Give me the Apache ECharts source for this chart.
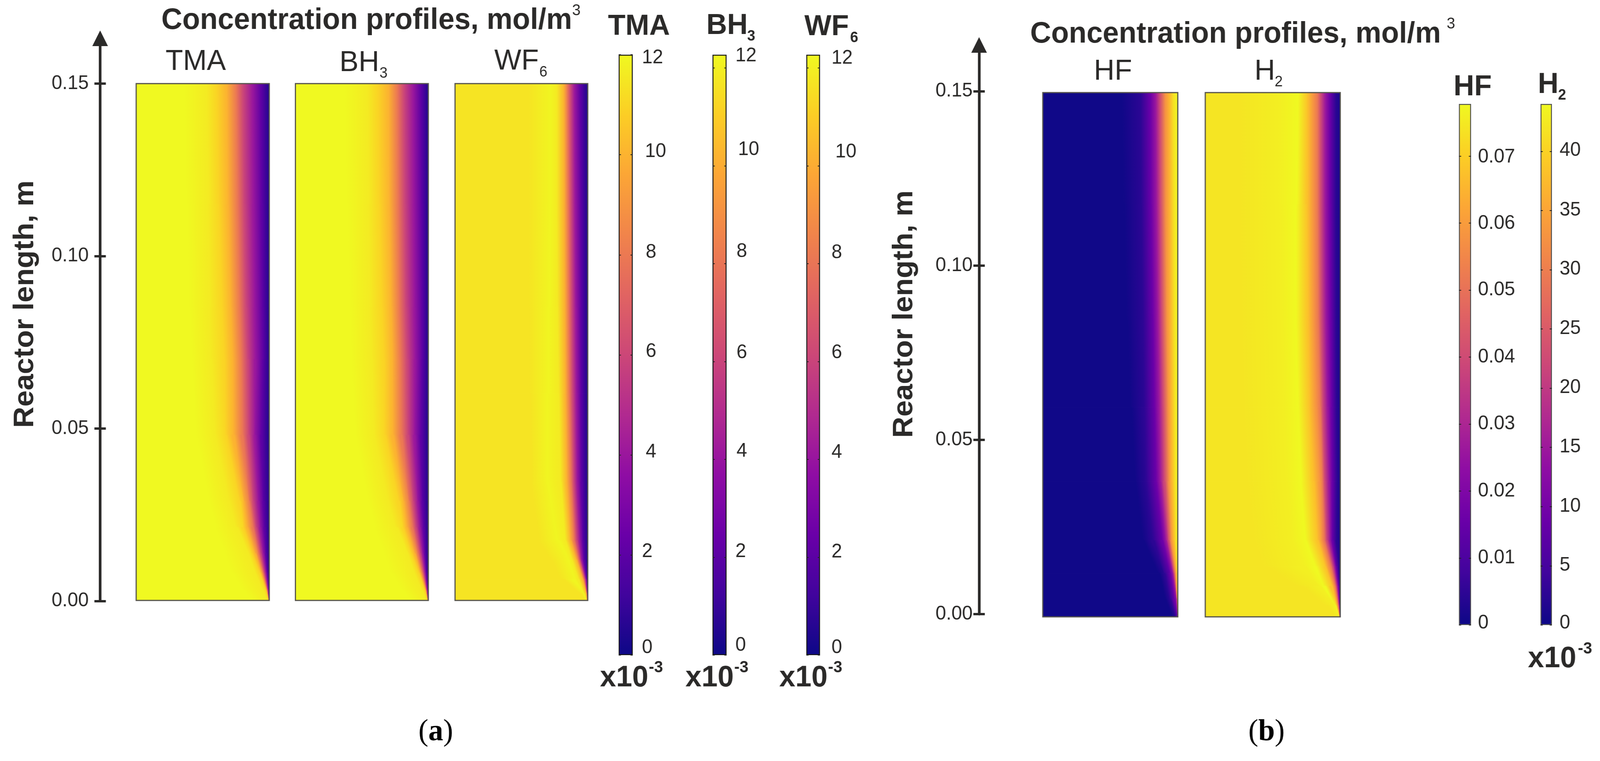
<!DOCTYPE html>
<html>
<head>
<meta charset="utf-8">
<style>
html,body{margin:0;padding:0;background:#fff;overflow:hidden;width:100%;height:100%}
/* The browser window tops out at 4096 px wide, so the 4195 px layout is fitted to the window width. */
#c{width:4195px;height:1948px;transform-origin:0 0;}
</style>
<script src="https://cdn.jsdelivr.net/npm/echarts@6/dist/echarts.min.js"></script>
</head>
<body>
<div id="c"></div>
<script>
// ---------- chart values ----------
// Reactor-length axis ticks (m)
const lengthTicks = [0, 0.05, 0.10, 0.15];

// Colour-bar ticks
const tmaTicks = [0, 2, 4, 6, 8, 10, 12];
const bh3Ticks = [0, 2, 4, 6, 8, 10, 12];
const wf6Ticks = [0, 2, 4, 6, 8, 10, 12];
const hfTicks = [0, 0.01, 0.02, 0.03, 0.04, 0.05, 0.06, 0.07];
const h2Ticks = [0, 5, 10, 15, 20, 25, 30, 35, 40];

// Top of each colour scale
const tmaScaleMax = 12, bh3ScaleMax = 12.27, wf6ScaleMax = 12.27, hfScaleMax = 0.0778, h2ScaleMax = 44;

// Each field: concentration levels (mol/m3, x10^-3 for all but HF), heights along the reactor (m),
// and for each height the lateral place (0 = left edge, 1 = right edge) where each level is reached.
const tmaLevels = [12, 11.6, 11, 10, 8, 6, 4, 2, 0.5];
const tmaHeights = [0.15, 0.115, 0.085, 0.07, 0.048, 0.0288, 0.0212, 0.0136, 0.008, 0.003, 0];
const tmaFront = [
  [.36,.53,.60,.68,.75,.80,.875,.94,1],
  [.38,.54,.62,.69,.76,.81,.88,.945,1],
  [.40,.55,.645,.71,.775,.825,.89,.95,1],
  [.42,.56,.66,.725,.79,.835,.895,.955,1],
  [.45,.60,.67,.73,.795,.845,.89,.94,1],
  [.55,.69,.78,.81,.85,.877,.917,.954,1],
  [.60,.755,.805,.83,.877,.90,.93,.963,1],
  [.66,.85,.868,.897,.917,.935,.954,.974,1],
  [.72,.89,.93,.94,.954,.963,.975,.985,1],
  [.80,.955,.973,.98,.985,.988,.992,.996,1],
  [.88,.985,.995,.997,.998,.998,.999,.999,1]
];
const bh3Levels = [12, 11.6, 11, 10, 8, 6, 4, 2, 0.5];
const bh3Heights = [0.15, 0.115, 0.085, 0.07, 0.048, 0.0288, 0.0212, 0.0136, 0.008, 0.003, 0];
const bh3Front = [
  [.37,.54,.615,.70,.765,.815,.885,.945,1],
  [.39,.55,.63,.705,.77,.82,.89,.95,1],
  [.41,.56,.65,.72,.78,.83,.895,.955,1],
  [.42,.57,.665,.73,.79,.84,.90,.955,1],
  [.45,.60,.67,.73,.795,.845,.895,.945,1],
  [.55,.69,.78,.815,.855,.885,.92,.955,1],
  [.60,.76,.81,.835,.88,.905,.935,.965,1],
  [.66,.85,.87,.90,.92,.94,.957,.975,1],
  [.72,.89,.93,.94,.955,.965,.976,.986,1],
  [.80,.955,.973,.98,.985,.988,.992,.996,1],
  [.88,.985,.995,.997,.998,.998,.999,.999,1]
];
const wf6Levels = [11.4, 11.9, 11.6, 10, 8, 6, 4, 2, 0.4];
const wf6Heights = [0.15, 0.115, 0.085, 0.06, 0.0344, 0.0174, 0.0118, 0.0061, 0.002, 0];
const wf6Front = [
  [.55,.72,.765,.82,.845,.87,.90,.945,1],
  [.55,.72,.765,.82,.85,.875,.905,.95,1],
  [.55,.71,.77,.825,.855,.88,.91,.95,1],
  [.56,.70,.78,.83,.86,.885,.915,.95,1],
  [.58,.69,.796,.84,.873,.895,.92,.953,1],
  [.62,.78,.833,.868,.897,.915,.94,.963,1],
  [.72,.86,.882,.916,.93,.943,.953,.972,1],
  [.80,.90,.93,.963,.972,.98,.987,.993,1],
  [.955,.97,.975,.99,.993,.995,.997,.998,1],
  [.98,.988,.99,.997,.998,.998,.999,.999,1]
];
const hfLevels = [0.0005, 0.0045, 0.0156, 0.0257, 0.039, 0.0585, 0.065, 0.074, 0.078];
const hfHeights = [0.15, 0.118, 0.085, 0.06, 0.0387, 0.0219, 0.0125, 0.0051, 0];
const hfFront = [
  [.58,.72,.795,.835,.865,.909,.936,.969,1],
  [.60,.73,.80,.84,.87,.912,.94,.972,1],
  [.62,.74,.815,.85,.88,.92,.945,.975,1],
  [.65,.75,.825,.86,.89,.93,.95,.978,1],
  [.69,.76,.84,.868,.90,.936,.953,.981,1],
  [.737,.816,.885,.912,.93,.953,.967,.987,1],
  [.862,.90,.945,.963,.972,.984,.99,.996,1],
  [.908,.941,.975,.99,.993,.996,.997,.999,1],
  [.96,.985,.998,1,1,1,1,1,1]
];
const h2Levels = [42, 43, 44, 38.3, 33, 29.3, 22, 14.5, 8.8, 2.4, 1];
const h2Heights = [0.15, 0.118, 0.085, 0.06, 0.0387, 0.0219, 0.0144, 0.0088, 0.0032, 0];
const h2Front = [
  [.25,.55,.69,.756,.80,.83,.857,.89,.924,.97,1],
  [.25,.55,.675,.755,.80,.83,.857,.89,.925,.97,1],
  [.25,.57,.67,.76,.805,.835,.862,.895,.93,.972,1],
  [.27,.58,.69,.77,.82,.85,.872,.905,.935,.975,1],
  [.30,.60,.71,.80,.85,.868,.885,.918,.94,.98,1],
  [.35,.65,.74,.834,.862,.88,.90,.924,.94,.974,1],
  [.42,.72,.82,.89,.913,.93,.946,.96,.97,.99,1],
  [.70,.85,.875,.94,.955,.963,.972,.98,.988,.997,1],
  [.90,.965,.97,.974,.982,.985,.99,.994,.996,.998,1],
  [.97,.99,.994,.995,.997,.998,.998,.999,.999,1,1]
];

// ---------- colour map and layout ----------
const plasmaStops = ['#0d0887','#41049d','#6a00a8','#8f0da4','#b12a90','#cc4778','#e16462','#f1844b','#fca636','#fcce25','#f0f921'];
function hexRgb(h){return [1,3,5].map(i=>parseInt(h.substr(i,2),16));}
function plasma(f){
  f=Math.max(0,Math.min(1,f));
  const t=f*10,i=Math.min(9,Math.floor(t)),u=t-i,a=hexRgb(plasmaStops[i]),b=hexRgb(plasmaStops[i+1]);
  return 'rgb('+a.map((c,k)=>Math.round(c+(b[k]-c)*u)).join(',')+')';
}
const INK='#2b2a29', SANS='"Liberation Sans", Arial, sans-serif', SERIF='"Liberation Serif", "Times New Roman", serif';

const panels=[
  {levels:tmaLevels,heights:tmaHeights,front:tmaFront,max:12,x0:357,x1:706,y0:214,y1:1537},
  {levels:bh3Levels,heights:bh3Heights,front:bh3Front,max:12,x0:774.5,x1:1123,y0:214,y1:1537},
  {levels:wf6Levels,heights:wf6Heights,front:wf6Front,max:12,x0:1193,x1:1541,y0:214,y1:1537},
  {levels:hfLevels,heights:hfHeights,front:hfFront,max:0.078,x0:2734,x1:3088,y0:237,y1:1579},
  {levels:h2Levels,heights:h2Heights,front:h2Front,max:44,x0:3160,x1:3514,y0:237,y1:1579}
];
const bars=[
  {ticks:tmaTicks,max:tmaScaleMax,x0:1622,x1:1659,y0:140,y1:1677,margin:24,border:'#1a1a1a',
   dy:[-19,-9,-7,-8,-6,-8,8],dx:[0,0,10,10,10,8,0]},
  {ticks:bh3Ticks,max:bh3ScaleMax,x0:1868,x1:1905,y0:140,y1:1677,margin:23,border:'#1a1a1a',
   dy:[-25,-14,-21,-22,-31,-41,-31],dx:[0,0,3,3,3,7,0]},
  {ticks:wf6Ticks,max:wf6ScaleMax,x0:2114,x1:2150,y0:140,y1:1677,margin:30,border:'#1a1a1a',
   dy:[-19,-13,-18,-22,-28,-35,-25],dx:[0,0,0,0,0,10,0]},
  {ticks:hfTicks,max:hfScaleMax,x0:3825,x1:3857,y0:266,y1:1600,margin:18,border:'#555',
   dy:[-5,0,0,0,0,0,1,2],dx:[0,0,0,0,0,0,0,0]},
  {ticks:h2Ticks,max:h2ScaleMax,x0:4039,x1:4069,y0:266,y1:1600,margin:20,border:'#555',
   dy:[-5,-1,-1,-1,-1,-1,-1,-1,-2],dx:[0,0,0,0,0,0,0,0,0]}
];
const lengthAxes=[
  {x:262.5,top:98,bottom:1538.6,max:0.16313,margin:30,dy:4},
  {x:2567,top:115,bottom:1572,max:0.16329,margin:17,dy:3}
];

// ---------- field quads, one per level band and height band ----------
function buildCells(p){
  const out=[];
  const L=p.levels;
  for(let i=0;i+1<p.heights.length;i++){
    const a=[0].concat(p.front[i]), b=[0].concat(p.front[i+1]), v=[L[0]].concat(L);
    for(let j=0;j+1<a.length;j++){
      out.push([a[j],a[j+1],b[j],b[j+1],p.heights[i],p.heights[i+1],v[j],v[j+1]]);
    }
  }
  return out;
}
function fieldRenderer(max){
  return function(params,api){
    const zt=api.value(4), zb=api.value(5), vl=api.value(6), vr=api.value(7);
    const p0=api.coord([api.value(0),zt]), p1=api.coord([api.value(1),zt]),
          p3=api.coord([api.value(2),zb]), p2=api.coord([api.value(3),zb]);
    if(Math.abs(p1[0]-p0[0])<0.05 && Math.abs(p2[0]-p3[0])<0.05) return null;
    const ml=[(p0[0]+p3[0])/2,(p0[1]+p3[1])/2], mr=[(p1[0]+p2[0])/2,(p1[1]+p2[1])/2];
    const dx=((p3[0]-p0[0])+(p2[0]-p1[0]))/2, dy=((p3[1]-p0[1])+(p2[1]-p1[1]))/2;
    const len=Math.hypot(dx,dy)||1, nx=dy/len, ny=-dx/len;
    const s=(mr[0]-ml[0])*nx+(mr[1]-ml[1])*ny;
    const g=new echarts.graphic.LinearGradient(ml[0],ml[1],ml[0]+nx*s,ml[1]+ny*s,
      [{offset:0,color:plasma(vl/max)},{offset:1,color:plasma(vr/max)}],true);
    return {type:'polygon',shape:{points:[p0,p1,p2,p3]},style:{fill:g,stroke:g,lineWidth:1.2},silent:true};
  };
}
function frameRenderer(params,api){
  const a=api.coord([0,0.15]), b=api.coord([1,0]);
  return {type:'rect',shape:{x:a[0],y:a[1],width:b[0]-a[0],height:b[1]-a[1]},
    style:{fill:'none',stroke:'#55534c',lineWidth:3},silent:true};
}

// ---------- assemble the option ----------
const grid=[],xAxis=[],yAxis=[],series=[];
function addGrid(g){grid.push(g);return grid.length-1;}

panels.forEach(p=>{
  const gi=addGrid({left:p.x0,top:p.y0,width:p.x1-p.x0,height:p.y1-p.y0,show:false});
  xAxis.push({gridIndex:gi,type:'value',min:0,max:1,show:false});
  yAxis.push({gridIndex:gi,type:'value',min:0,max:0.15,show:false});
  const idx=yAxis.length-1;
  series.push({type:'custom',xAxisIndex:xAxis.length-1,yAxisIndex:idx,coordinateSystem:'cartesian2d',
    clip:true,silent:true,animation:false,progressive:0,z:2,
    renderItem:fieldRenderer(p.max),data:buildCells(p)});
  series.push({type:'custom',xAxisIndex:xAxis.length-1,yAxisIndex:idx,coordinateSystem:'cartesian2d',
    clip:false,silent:true,animation:false,z:3,renderItem:frameRenderer,data:[[0,0]]});
});

lengthAxes.forEach(a=>{
  const gi=addGrid({left:a.x,top:a.top,width:1,height:a.bottom-a.top,show:false});
  xAxis.push({gridIndex:gi,type:'value',min:0,max:1,show:false});
  yAxis.push({gridIndex:gi,type:'value',position:'left',min:0,max:a.max,splitLine:{show:false},
    axisLine:{show:true,onZero:false,lineStyle:{color:INK,width:7},symbol:['none','triangle'],symbolSize:[41,40]},
    axisTick:{show:true,length:15,customValues:lengthTicks,lineStyle:{color:INK,width:6}},
    axisLabel:{show:true,customValues:lengthTicks,margin:a.margin,color:INK,fontFamily:SANS,fontSize:50,
      padding:[a.dy*2,0,0,0],formatter:v=>v.toFixed(2)}});
  yAxis.push({gridIndex:gi,type:'value',position:'left',min:0,max:a.max,splitLine:{show:false},
    axisLine:{show:false},
    axisTick:{show:true,inside:true,length:15,customValues:lengthTicks,lineStyle:{color:INK,width:6}},
    axisLabel:{show:false}});
});

const barStops=plasmaStops.map((c,i)=>({offset:1-i/10,color:c}));
bars.forEach(b=>{
  const gi=addGrid({left:b.x0,top:b.y0,width:b.x1-b.x0,height:b.y1-b.y0,show:false});
  xAxis.push({gridIndex:gi,type:'category',data:['c'],show:false,boundaryGap:true});
  const rich={};
  b.ticks.forEach((t,i)=>{
    rich['n'+i]={fontFamily:SANS,fontSize:50,color:INK,
      padding:[b.dy[i]>0?b.dy[i]*2:0,0,b.dy[i]<0?-b.dy[i]*2:0,b.dx[i]]};
  });
  yAxis.push({gridIndex:gi,type:'value',position:'left',min:0,max:b.max,z:6,splitLine:{show:false},
    axisLine:{show:false},
    axisTick:{show:true,inside:true,length:6,customValues:b.ticks,lineStyle:{color:'#222',width:2}},
    axisLabel:{show:false}});
  const left=yAxis.length-1;
  yAxis.push({gridIndex:gi,type:'value',position:'right',min:0,max:b.max,z:6,splitLine:{show:false},
    axisLine:{show:false},
    axisTick:{show:true,inside:true,length:6,customValues:b.ticks,lineStyle:{color:'#222',width:2}},
    axisLabel:{show:true,customValues:b.ticks,margin:b.margin,rich:rich,
      formatter:v=>{
        let k=0;b.ticks.forEach((t,i)=>{if(Math.abs(t-v)<Math.abs(b.ticks[k]-v))k=i;});
        return '{n'+k+'|'+b.ticks[k]+'}';
      }}});
  series.push({type:'bar',xAxisIndex:xAxis.length-1,yAxisIndex:left,barWidth:'100%',silent:true,animation:false,z:2,
    data:[b.max],
    itemStyle:{color:new echarts.graphic.LinearGradient(0,0,0,1,barStops),borderColor:b.border,borderWidth:2.5}});
});

// ---------- text ----------
const graphic=[];
function txt(x,baseline,text,size,weight,extra){
  graphic.push(Object.assign({type:'text',x:x,y:baseline-0.3465*size,silent:true,z:20,
    style:{text:text,fill:INK,font:(weight||'normal')+' '+size+'px '+SANS,textAlign:'left',textVerticalAlign:'middle',verticalAlign:'middle'}},extra||{}));
}
function rotated(xBaseline,yCenter,text,size){
  graphic.push({type:'text',x:xBaseline-0.3465*size,y:yCenter,rotation:Math.PI/2,silent:true,z:20,
    style:{text:text,fill:INK,font:'bold '+size+'px '+SANS,textAlign:'center',textVerticalAlign:'middle',verticalAlign:'middle'}});
}
function caption(x,baseline,letter){
  graphic.push({type:'text',x:x,y:baseline-0.3375*78,silent:true,z:20,
    style:{text:'{r|(}{b|'+letter+'}{r|)}',fill:'#000',textAlign:'left',verticalAlign:'middle',
      rich:{r:{font:'normal 78px '+SERIF,fill:'#000'},b:{font:'bold 78px '+SERIF,fill:'#000'}}}});
}
// Panel (a)
txt(423,79,'Concentration profiles, mol/m',76,'bold');
txt(1500,42,'3',40);
txt(434,184,'TMA',75); txt(890,187,'BH',75); txt(995,202,'3',38); txt(1296,183,'WF',75); txt(1414,199,'6',38);
txt(1594,94,'TMA',75,'bold'); txt(1852,92,'BH',75,'bold'); txt(1959,107,'3',38,'bold'); txt(2109,95,'WF',75,'bold'); txt(2229,111,'6',38,'bold');
[1573,1797,2043].forEach(x=>{txt(x,1762,'x10',76,'bold'); txt(x+128,1724,'-3',42,'bold');});
rotated(92,778.5,'Reactor length, m',75);
caption(1097,1901,'a');
// Panel (b)
txt(2701,114,'Concentration profiles, mol/m',76,'bold');
txt(3793,76,'3',40);
txt(2868,209,'HF',75); txt(3289,209,'H',75); txt(3342,224,'2',38);
txt(3811,249,'HF',75,'bold'); txt(4032,243,'H',75,'bold'); txt(4085,258,'2',38,'bold');
txt(4006,1713,'x10',76,'bold'); txt(4137,1676,'-3',42,'bold');
rotated(2397,804,'Reactor length, m',75);
caption(3273,1901,'b');

const host=document.getElementById('c');
host.style.transform='scaleX('+Math.min(1,window.innerWidth/4195)+')';
const chart=echarts.init(host,null,{renderer:'canvas',width:4195,height:1948});
chart.setOption({animation:false,backgroundColor:'#fff',tooltip:{show:false},grid,xAxis,yAxis,series,graphic});
</script>
</body>
</html>
